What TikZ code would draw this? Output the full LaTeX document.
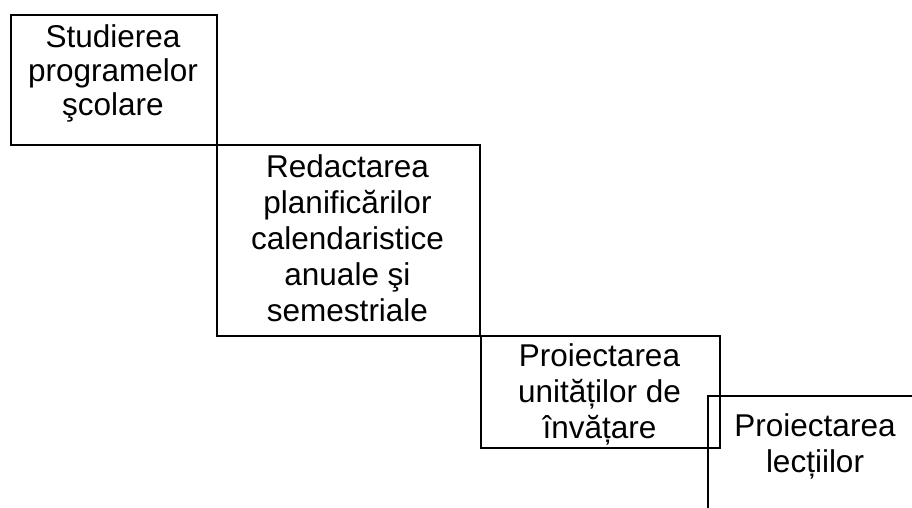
\documentclass[tikz,border=0pt]{standalone}
\usepackage{fontspec}
\setmainfont{Liberation Sans}
\newcommand{\boxtext}[2][36pt]{{\fontsize{31.5pt}{#1}\selectfont\setlength{\tabcolsep}{0pt}\begin{tabular}[t]{c}#2\end{tabular}}}
\begin{document}
\begin{tikzpicture}[x=1pt,y=-1pt,
  stagebox/.style={draw=black, line width=2.2pt, anchor=north west, inner sep=0pt, minimum width=#1},
  stagetext/.style={anchor=base, inner sep=0pt, text=black}]
\useasboundingbox (0,0) rectangle (912,508);
\clip (0,0) rectangle (912,508);
\node[stagebox=206pt, minimum height=130pt] (b1) at (10,14) {};
\node[stagebox=263pt, minimum height=191pt] (b2) at (216,144) {};
\node[stagebox=239pt, minimum height=112pt] (b3) at (480,335) {};
\node[stagebox=216pt, minimum height=140pt] (b4) at (707,395) {};
\node[stagetext] (t1) at (113,48) {\boxtext[34pt]{Studierea\\programelor\\şcolare}};
\node[stagetext] (t2) at (347.5,177) {\boxtext{Redactarea\\planificărilor\\calendaristice\\anuale şi\\semestriale}};
\node[stagetext] (t3) at (599.5,366) {\boxtext{Proiectarea\\unităților de\\învățare}};
\node[stagetext] (t4) at (815,436) {\boxtext{Proiectarea\\lecțiilor}};
\end{tikzpicture}
\end{document}
